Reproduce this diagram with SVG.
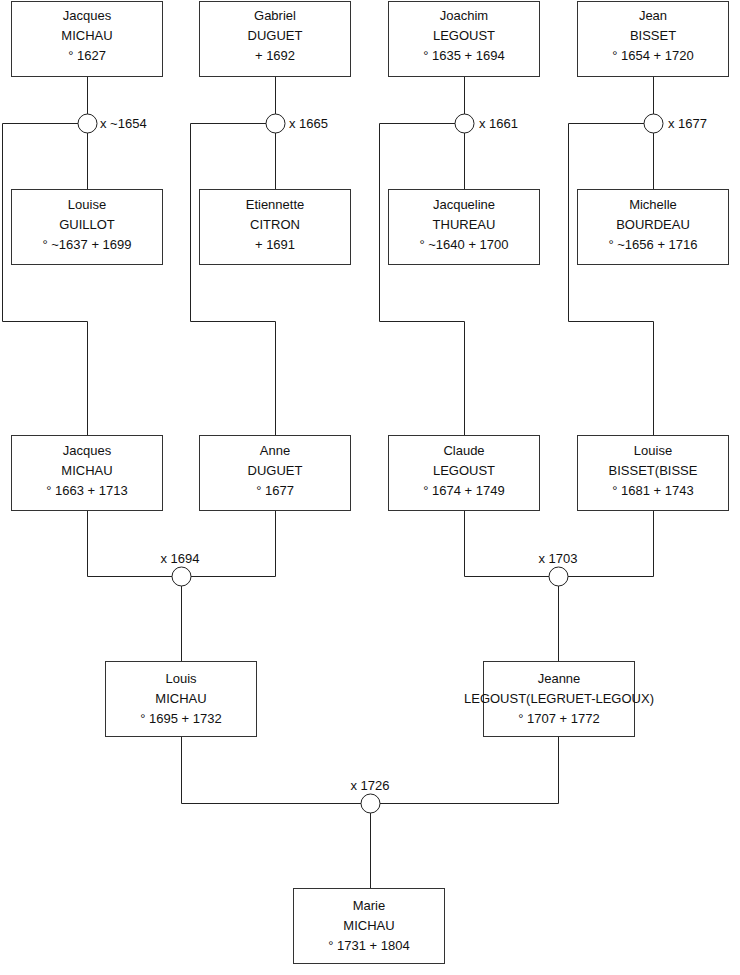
<svg xmlns="http://www.w3.org/2000/svg" width="740" height="975" viewBox="0 0 740 975">
<style>
.box{fill:#fff;stroke:#333;stroke-width:1}
.t{font-family:"Liberation Sans",Arial,sans-serif;font-size:13px;fill:#111;text-anchor:middle}
.l{font-family:"Liberation Sans",Arial,sans-serif;font-size:13px;fill:#111}
.c{fill:#fff;stroke:#222;stroke-width:1}
.ln{fill:none;stroke:#222;stroke-width:1}
</style>
<rect width="740" height="975" fill="#fff"/>
<g id="connectors">
<path class="ln" d="M87.5 76V189M2.5 123.5H87.5M2.5 123.5V321.5H87.5V435"/>
<path class="ln" d="M275.5 76V189M190.5 123.5H275.5M190.5 123.5V321.5H275.5V435"/>
<path class="ln" d="M464.5 76V189M379.5 123.5H464.5M379.5 123.5V321.5H464.5V435"/>
<path class="ln" d="M653.5 76V189M568.5 123.5H653.5M568.5 123.5V321.5H653.5V435"/>
<path class="ln" d="M87.5 510V576.5H275.5V510M181.5 576.5V661"/>
<path class="ln" d="M464.5 510V576.5H653.5V510M558.5 576.5V661"/>
<path class="ln" d="M181.5 737V803.5H558.5V737M370.5 803.5V888"/>
</g>
<g id="m1"><circle class="c" cx="87.5" cy="123.5" r="9.5"/><text class="l" x="100" y="128">x ~1654</text></g>
<g id="m2"><circle class="c" cx="275.5" cy="123.5" r="9.5"/><text class="l" x="289" y="128">x 1665</text></g>
<g id="m3"><circle class="c" cx="464.5" cy="123.5" r="9.5"/><text class="l" x="479" y="128">x 1661</text></g>
<g id="m4"><circle class="c" cx="653.5" cy="123.5" r="9.5"/><text class="l" x="668" y="128">x 1677</text></g>
<g id="m5"><circle class="c" cx="181.5" cy="576.5" r="9.5"/><text class="t" x="180" y="563">x 1694</text></g>
<g id="m6"><circle class="c" cx="558.5" cy="576.5" r="9.5"/><text class="t" x="558" y="563">x 1703</text></g>
<g id="m7"><circle class="c" cx="370.5" cy="803.5" r="9.5"/><text class="t" x="370" y="790">x 1726</text></g>
<g id="p1"><rect class="box" x="11.5" y="1.5" width="151" height="75"/><text class="t" x="87" y="20">Jacques</text><text class="t" x="87" y="40">MICHAU</text><text class="t" x="87" y="60">° 1627</text></g>
<g id="p2"><rect class="box" x="199.5" y="1.5" width="151" height="75"/><text class="t" x="275" y="20">Gabriel</text><text class="t" x="275" y="40">DUGUET</text><text class="t" x="275" y="60">+ 1692</text></g>
<g id="p3"><rect class="box" x="388.5" y="1.5" width="151" height="75"/><text class="t" x="464" y="20">Joachim</text><text class="t" x="464" y="40">LEGOUST</text><text class="t" x="464" y="60">° 1635 + 1694</text></g>
<g id="p4"><rect class="box" x="577.5" y="1.5" width="151" height="75"/><text class="t" x="653" y="20">Jean</text><text class="t" x="653" y="40">BISSET</text><text class="t" x="653" y="60">° 1654 + 1720</text></g>
<g id="p5"><rect class="box" x="11.5" y="189.5" width="151" height="75"/><text class="t" x="87" y="209">Louise</text><text class="t" x="87" y="229">GUILLOT</text><text class="t" x="87" y="249">° ~1637 + 1699</text></g>
<g id="p6"><rect class="box" x="199.5" y="189.5" width="151" height="75"/><text class="t" x="275" y="209">Etiennette</text><text class="t" x="275" y="229">CITRON</text><text class="t" x="275" y="249">+ 1691</text></g>
<g id="p7"><rect class="box" x="388.5" y="189.5" width="151" height="75"/><text class="t" x="464" y="209">Jacqueline</text><text class="t" x="464" y="229">THUREAU</text><text class="t" x="464" y="249">° ~1640 + 1700</text></g>
<g id="p8"><rect class="box" x="577.5" y="189.5" width="151" height="75"/><text class="t" x="653" y="209">Michelle</text><text class="t" x="653" y="229">BOURDEAU</text><text class="t" x="653" y="249">° ~1656 + 1716</text></g>
<g id="p9"><rect class="box" x="11.5" y="435.5" width="151" height="75"/><text class="t" x="87" y="455">Jacques</text><text class="t" x="87" y="475">MICHAU</text><text class="t" x="87" y="495">° 1663 + 1713</text></g>
<g id="p10"><rect class="box" x="199.5" y="435.5" width="151" height="75"/><text class="t" x="275" y="455">Anne</text><text class="t" x="275" y="475">DUGUET</text><text class="t" x="275" y="495">° 1677</text></g>
<g id="p11"><rect class="box" x="388.5" y="435.5" width="151" height="75"/><text class="t" x="464" y="455">Claude</text><text class="t" x="464" y="475">LEGOUST</text><text class="t" x="464" y="495">° 1674 + 1749</text></g>
<g id="p12"><rect class="box" x="577.5" y="435.5" width="151" height="75"/><text class="t" x="653" y="455">Louise</text><text class="t" x="653" y="475">BISSET(BISSE</text><text class="t" x="653" y="495">° 1681 + 1743</text></g>
<g id="p13"><rect class="box" x="105.5" y="661.5" width="151" height="75"/><text class="t" x="181" y="683">Louis</text><text class="t" x="181" y="703">MICHAU</text><text class="t" x="181" y="723">° 1695 + 1732</text></g>
<g id="p14"><rect class="box" x="483.5" y="661.5" width="151" height="75"/><text class="t" x="559" y="683">Jeanne</text><text class="t" x="559" y="703">LEGOUST(LEGRUET-LEGOUX)</text><text class="t" x="559" y="723">° 1707 + 1772</text></g>
<g id="p15"><rect class="box" x="293.5" y="888.5" width="151" height="75"/><text class="t" x="369" y="910">Marie</text><text class="t" x="369" y="930">MICHAU</text><text class="t" x="369" y="950">° 1731 + 1804</text></g>
</svg>
